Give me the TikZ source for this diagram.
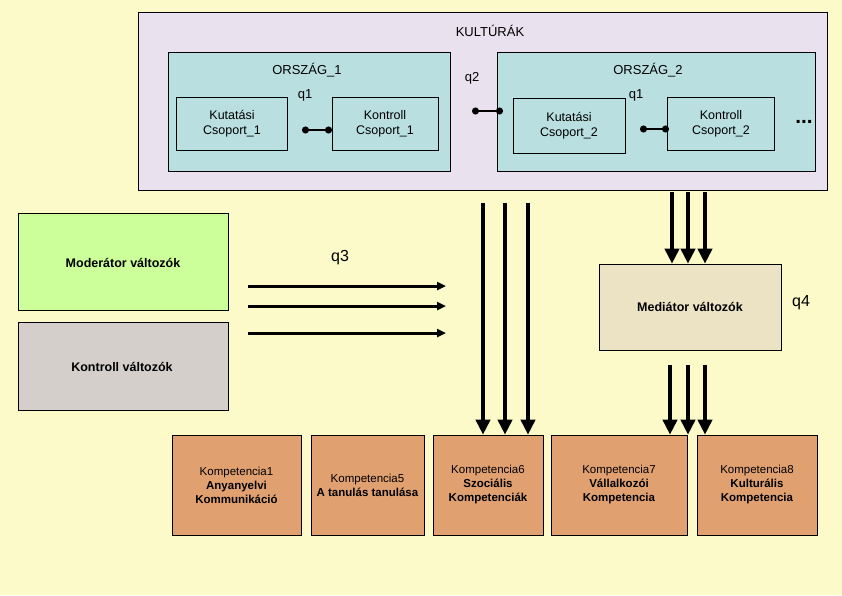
\documentclass[tikz,border=0pt]{standalone}
\usepackage{fontspec}
\setmainfont{Liberation Sans}
\usetikzlibrary{arrows.meta,positioning}
\definecolor{bgyellow}{HTML}{FBFAC8}
\definecolor{lavender}{HTML}{E9E2EE}
\definecolor{teal}{HTML}{B9DFE1}
\definecolor{moder}{HTML}{CCFF99}
\definecolor{kontr}{HTML}{D4CFCB}
\definecolor{medi}{HTML}{EBE3C3}
\definecolor{komp}{HTML}{E0A070}

\begin{document}
\begin{tikzpicture}[
    x=1pt, y=-1pt,
    box/.style={draw, line width=0.6pt, inner sep=0pt},
    grp/.style={box, fill=teal, font=\fontsize{12.5}{15}\selectfont, align=center},
    kompbox/.style={box, fill=komp, font=\fontsize{11.5}{14}\selectfont, align=center},
    link/.style={{Circle[length=7pt]}-{Circle[length=7pt]}, line width=1.6pt, shorten <=-3pt, shorten >=-3pt},
    harrow/.style={-{Triangle[width=8pt,length=9pt]}, line width=3pt},
    varrow/.style={-{Triangle[width=14pt,length=15pt]}, line width=4pt},
    lbl/.style={font=\fontsize{13}{15}\selectfont},
    vlbl/.style={font=\fontsize{12.5}{15}\selectfont\bfseries}
]
\useasboundingbox (0,0) rectangle (842,595);
\fill[bgyellow] (0,0) rectangle (842,595);

% cultures
\draw[fill=lavender, line width=0.6pt] (138,12) rectangle (827,190);
\node[lbl] (kult) at (490,31) {KULTÚRÁK};
\draw[fill=teal, line width=0.6pt] (168,52) rectangle (450,171);
\draw[fill=teal, line width=0.6pt] (497,52) rectangle (815,171);
\node[lbl] (o1) at (307,70) {ORSZÁG\_1};
\node[lbl] (o2) at (648,70) {ORSZÁG\_2};

% groups
\node[grp, minimum width=111pt, minimum height=53pt] (kut1) at (232,124) {Kutatási\\Csoport\_1};
\node[grp, minimum width=106pt, minimum height=53pt] (kon1) at (385,124) {Kontroll\\Csoport\_1};
\node[grp, minimum width=112pt, minimum height=55pt] (kut2) at (569,126) {Kutatási\\Csoport\_2};
\node[grp, minimum width=107pt, minimum height=53pt] (kon2) at (721,124) {Kontroll\\Csoport\_2};
\coordinate (c1a) at (305,130); \coordinate (c1b) at (329,130);
\coordinate (c2a) at (475,111); \coordinate (c2b) at (500,111);
\coordinate (c3a) at (643,129); \coordinate (c3b) at (666,129);
\draw[link] (c1a) -- (c1b);
\draw[link] (c2a) -- (c2b);
\draw[link] (c3a) -- (c3b);
\node[lbl] at (305,95) {q1};
\node[lbl] at (472,78) {q2};
\node[lbl] at (636,95) {q1};
\node[font=\bfseries\huge] at (804,122) {...};

% variables
\node[box, fill=moder, minimum width=210pt, minimum height=97pt] (moder) at (123,261.5) {};
\node[vlbl] at (123,263) {Moderátor változók};
\node[box, fill=kontr, minimum width=210pt, minimum height=88pt] (kontr) at (123,366) {};
\node[vlbl] at (122,367) {Kontroll változók};
\node[box, fill=medi, minimum width=182pt, minimum height=86pt] (medi) at (690,307) {};
\node[vlbl] at (690,307) {Mediátor változók};
\node[font=\fontsize{16}{18}\selectfont] at (340,258) {q3};
\node[font=\fontsize{16}{18}\selectfont] at (801,303) {q4};

% competences
\node[kompbox, minimum width=129pt, minimum height=100pt] (k1) at (236.5,485) {Kompetencia1\\\textbf{Anyanyelvi}\\\textbf{Kommunikáció}};
\node[kompbox, minimum width=113pt, minimum height=100pt] (k5) at (367.5,485) {Kompetencia5\\\textbf{A tanulás tanulása}};
\node[kompbox, minimum width=110pt, minimum height=100pt] (k6) at (488,485) {Kompetencia6\\\textbf{Szociális}\\\textbf{Kompetenciák}};
\node[kompbox, minimum width=136pt, minimum height=100pt] (k7) at (619,485) {Kompetencia7\\\textbf{Vállalkozói}\\\textbf{Kompetencia}};
\node[kompbox, minimum width=120pt, minimum height=100pt] (k8) at (757,485) {Kompetencia8\\\textbf{Kulturális}\\\textbf{Kompetencia}};

% arrows
\foreach \yy in {286,306,333}
  \draw[harrow] (248,\yy) -- (446,\yy);
\foreach \xx in {483,505,528}
  \draw[varrow] (\xx,203) -- (\xx,203 |- k6.north);
\foreach \xx in {672,688,705}
  \draw[varrow] (\xx,192) -- (\xx,192 |- medi.north);
\foreach \xx in {670,688,705}
  \draw[varrow] (\xx,365) -- (\xx,365 |- k7.north);
\end{tikzpicture}
\end{document}
